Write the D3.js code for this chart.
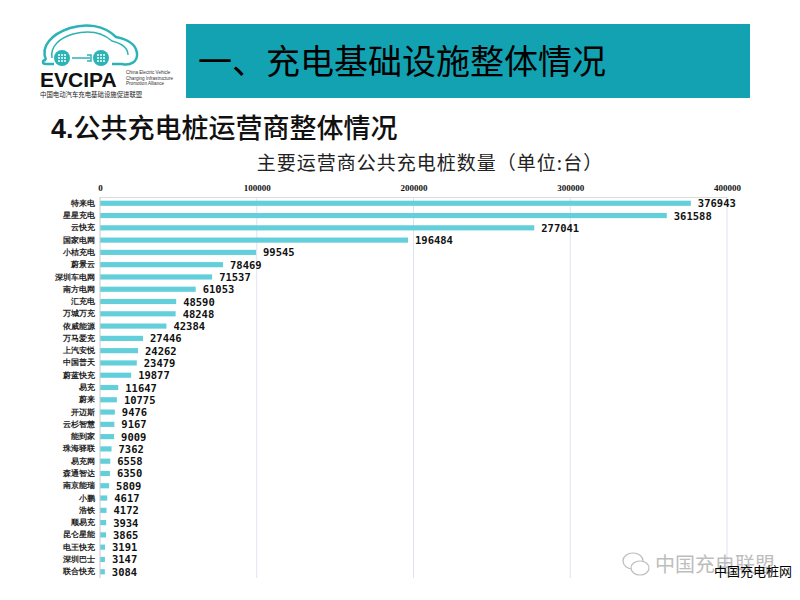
<!DOCTYPE html>
<html><head><meta charset="utf-8">
<script src="https://cdn.jsdelivr.net/npm/d3@7"></script>
<style>
body{margin:0;background:#fff;}
svg{display:block;font-family:"Noto Sans CJK SC","Noto Sans",sans-serif;}
</style></head>
<body><svg id="c" width="800" height="600"></svg>
<script>
const categories = ["特来电","星星充电","云快充","国家电网","小桔充电","蔚景云","深圳车电网","南方电网","汇充电","万城万充","依威能源","万马爱充","上汽安悦","中国普天","蔚蓝快充","易充","蔚来","开迈斯","云杉智慧","能到家","珠海驿联","易充网","森通智达","南京能瑞","小鹏","浩铁","顺易充","昆仑星能","电王快充","深圳巴士","联合快充"];
const values = [376943,361588,277041,196484,99545,78469,71537,61053,48590,48248,42384,27446,24262,23479,19877,11647,10775,9476,9167,9009,7362,6558,6350,5809,4617,4172,3934,3865,3191,3147,3084];
const tickValues = [0,100000,200000,300000,400000];
const pageTitle = "一、充电基础设施整体情况";
const sectionTitle = "公共充电桩运营商整体情况";
const chartTitle = "主要运营商公共充电桩数量（单位:台）";

const svg = d3.select("#c");

// logo
const logo = svg.append("g");
logo.append("path").attr("d","M46,60 C40,46 52,34 70,28 C86,23 104,25 116,37 C126,39 136,44 137,53 C138,62 130,66 122,64 L112,64 M54,64 L46,64 C42,64 42,60 46,60")
  .attr("fill","none").attr("stroke","#2bb3b6").attr("stroke-width",2.5);
logo.append("path").attr("d","M52,58 C50,46 60,38 73,34 C88,30 102,32 112,41 C120,43 128,47 128,55")
  .attr("fill","none").attr("stroke","#2bb3b6").attr("stroke-width",1.5);
[62,101].forEach(cx=>{
  logo.append("circle").attr("cx",cx).attr("cy",58).attr("r",8).attr("fill","#2bb3b6");
  [[-3,-3],[0,-3],[3,-3],[-3,0],[0,0],[3,0],[-3,3],[0,3],[3,3]].forEach(d=>logo.append("circle").attr("cx",cx+d[0]).attr("cy",58+d[1]).attr("r",1).attr("fill","#fff"));
});
logo.append("path").attr("d","M72,58 L90,58 M87,55 L91,55 L91,61 L87,61").attr("stroke","#2bb3b6").attr("stroke-width",1.5).attr("fill","none");
logo.append("text").attr("x",40).attr("y",87).attr("font-family","Liberation Sans, Arial, sans-serif").attr("font-weight","bold").attr("font-size",21).attr("fill","#111").text("EVCIPA");
["China Electric Vehicle","Charging Infrastructure","Promotion Alliance"].forEach((t,i)=>
  logo.append("text").attr("x",126).attr("y",74+i*5.5).attr("font-size",4.6).attr("fill","#333").attr("font-family","Liberation Sans, sans-serif").text(t));
logo.append("text").attr("x",40).attr("y",97).attr("font-size",6.4).attr("fill","#222").text("中国电动汽车充电基础设施促进联盟");

// banner
svg.append("rect").attr("x",186).attr("y",24).attr("width",564).attr("height",74).attr("fill","#12a2b1");
svg.append("text").attr("x",198).attr("y",74).attr("font-size",34).attr("fill","#000").text(pageTitle);

// section title
const st = svg.append("text").attr("x",51).attr("y",138).attr("font-size",27).attr("fill","#111");
st.append("tspan").attr("font-weight","bold").attr("font-family","Liberation Sans, Arial, sans-serif").text("4.");
st.append("tspan").attr("font-weight","500").text(sectionTitle);

// chart
svg.append("text").attr("x",430).attr("y",170).attr("text-anchor","middle").attr("font-size",19).attr("fill","#222").attr("letter-spacing",1).text(chartTitle);

const pLeft=100, pRight=727, pTop=197, pBottom=578;
const x = d3.scaleLinear().domain([0,400000]).range([pLeft,pRight]);
const y = d3.scaleBand().domain(categories).range([pTop,pBottom]).paddingInner(0.58).paddingOuter(0.3);

// grid
svg.append("g").selectAll("line").data(tickValues.slice(1)).join("line")
  .attr("x1",d=>x(d)).attr("x2",d=>x(d)).attr("y1",pTop).attr("y2",pBottom)
  .attr("stroke","#dde3f0").attr("stroke-width",1);
svg.append("line").attr("x1",pLeft).attr("x2",pRight).attr("y1",pTop+0.5).attr("y2",pTop+0.5).attr("stroke","#dcdcdc");

// top axis
const ax = svg.append("g").attr("transform",`translate(0,${pTop-6})`)
  .call(d3.axisTop(x).tickValues(tickValues).tickFormat(d3.format("d")).tickSize(0).tickPadding(0));
ax.select(".domain").remove();
ax.selectAll("text").attr("font-size",9).attr("font-weight","bold").attr("font-family","Liberation Serif, DejaVu Serif, serif").attr("fill","#111");

// bars
svg.append("g").selectAll("rect").data(values).join("rect")
  .attr("x",x(0)).attr("y",(d,i)=>y(categories[i]))
  .attr("width",d=>x(d)-x(0)).attr("height",y.bandwidth())
  .attr("fill","#63cfdb");

// left axis
const ay = svg.append("g").attr("transform",`translate(${pLeft},0)`)
  .call(d3.axisLeft(y).tickSize(0).tickPadding(5));
ay.select(".domain").attr("stroke","#c8c8c8").attr("d",`M0,${pTop}V${pBottom}`);
ay.selectAll("text").attr("font-size",8).attr("font-weight","bold").attr("fill","#222");

// value labels
svg.append("g").selectAll("text").data(values).join("text")
  .attr("x",d=>x(d)+7).attr("y",(d,i)=>y(categories[i])+y.bandwidth()/2+4)
  .attr("font-size",10.5).attr("font-weight","bold").attr("font-family","DejaVu Sans Mono, Liberation Mono, monospace")
  .attr("fill","#111").text(d=>d);

// watermark
const wm = svg.append("g").attr("opacity",0.55);
wm.append("ellipse").attr("cx",633).attr("cy",561).attr("rx",10).attr("ry",8).attr("fill","none").attr("stroke","#888").attr("stroke-width",1.2);
wm.append("ellipse").attr("cx",640).attr("cy",568).attr("rx",9).attr("ry",7).attr("fill","#fff").attr("stroke","#888").attr("stroke-width",1.2);
wm.append("text").attr("x",655).attr("y",572).attr("font-size",20).attr("fill","#888").text("中国充电联盟");
svg.append("text").attr("x",714).attr("y",576).attr("font-size",13).attr("fill","#000").text("中国充电桩网");
</script></body></html>
